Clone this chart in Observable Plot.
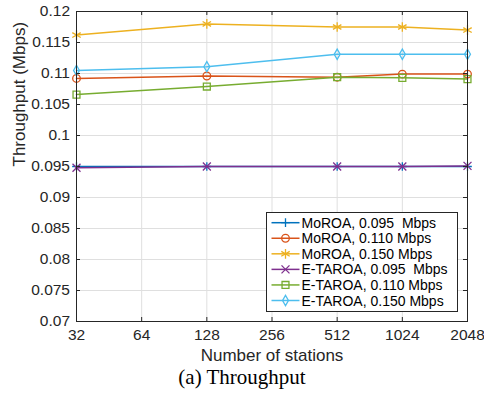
<!DOCTYPE html>
<html>
<head>
<meta charset="utf-8">
<script src="https://cdn.jsdelivr.net/npm/d3@7"></script>
<script src="https://cdn.jsdelivr.net/npm/@observablehq/plot@0.6"></script>
<style>
  body { margin: 0; background: #fff; }
  #wrap { position: relative; width: 484px; height: 403px; overflow: hidden; }
  #chart svg { display: block; }
  #legend { position: absolute; left: 266px; top: 212px; }
  #caption {
    position: absolute; left: 0; top: 367px; width: 484px; text-align: center;
    font-family: "Liberation Serif", "Times New Roman", serif; font-size: 21px; line-height: 21px; color: #000;
  }
</style>
</head>
<body>
<div id="wrap">
  <div id="chart"></div>
  <svg id="legend" width="193" height="101"></svg>
  <div id="caption">(a) Throughput</div>
</div>
<script>
// Number of stations on the x axis (log2 spaced)
const stations = [32, 128, 512, 1024, 2048];

// Throughput per scheme and offered load (Mbps)
const moroa095  = [0.0950, 0.0950, 0.0950, 0.0950, 0.0950];
const moroa110  = [0.1092, 0.1096, 0.1094, 0.1099, 0.1099];
const moroa150  = [0.1162, 0.1180, 0.1175, 0.1175, 0.1170];
const etaroa095 = [0.0948, 0.0950, 0.0950, 0.0950, 0.0951];
const etaroa110 = [0.1066, 0.1079, 0.1094, 0.1093, 0.1091];
const etaroa150 = [0.1105, 0.1111, 0.1131, 0.1131, 0.1131];

const seriesNames = [
  "MoROA, 0.095  Mbps",
  "MoROA, 0.110 Mbps",
  "MoROA, 0.150 Mbps",
  "E-TAROA, 0.095  Mbps",
  "E-TAROA, 0.110 Mbps",
  "E-TAROA, 0.150 Mbps"
];
const seriesValues = [moroa095, moroa110, moroa150, etaroa095, etaroa110, etaroa150];

const xTicks = [32, 64, 128, 256, 512, 1024, 2048];
const yTicks = [0.07, 0.075, 0.08, 0.085, 0.09, 0.095, 0.1, 0.105, 0.11, 0.115, 0.12];

const xLabel = "Number of stations";
const yLabel = "Throughput (Mbps)";

// Styling per series
const colors  = ["#0072BD", "#D95319", "#EDB120", "#7E2F8E", "#77AC30", "#4DBEEE"];
const symbols = ["plus", "circle", "asterisk", "times", "square", "diamond"];
const symbolR = {plus: 2.9, circle: 3.8, asterisk: 4.6, times: 3.7, square: 3.9, diamond: 3.1};
const d3Symbols = {
  plus: d3.symbolPlus, circle: d3.symbolCircle, asterisk: d3.symbolAsterisk,
  times: d3.symbolTimes, square: d3.symbolSquare, diamond: d3.symbolDiamond
};

const axisColor = "#262626";
const gridColor = "#dfdfdf";

const W = 484, H = 367;
const mTop = 11, mRight = 17, mBottom = 46, mLeft = 76;
const plotH = H - mTop - mBottom;
const plotW = W - mLeft - mRight;
const tickLen = 4;

const rows = seriesNames.map((name, i) =>
  stations.map((n, j) => ({series: name, n, v: seriesValues[i][j]}))
);

const seriesMarks = rows.flatMap((data, i) => [
  Plot.line(data, {x: "n", y: "v", stroke: colors[i], strokeWidth: 1.5}),
  Plot.dot(data, {x: "n", y: "v", stroke: colors[i], fill: "none", strokeWidth: 1.3,
                  symbol: symbols[i], r: symbolR[symbols[i]]})
]);

const chart = Plot.plot({
  width: W,
  height: H,
  marginTop: mTop,
  marginRight: mRight,
  marginBottom: mBottom,
  marginLeft: mLeft,
  style: {fontFamily: "'Liberation Sans', Arial, sans-serif", fontSize: "15.5px", color: axisColor, background: "#fff"},
  x: {type: "log", base: 2, domain: [32, 2048]},
  y: {domain: [0.07, 0.12]},
  marks: [
    Plot.gridX(xTicks, {stroke: gridColor, strokeOpacity: 1}),
    Plot.gridY(yTicks, {stroke: gridColor, strokeOpacity: 1}),
    ...seriesMarks,
    // inward ticks on all four sides
    Plot.tickX(xTicks, {x: d => d, insetTop: plotH - tickLen, stroke: axisColor}),
    Plot.tickX(xTicks, {x: d => d, insetBottom: plotH - tickLen, stroke: axisColor}),
    Plot.tickY(yTicks, {y: d => d, insetRight: plotW - tickLen, stroke: axisColor}),
    Plot.tickY(yTicks, {y: d => d, insetLeft: plotW - tickLen, stroke: axisColor}),
    Plot.frame({stroke: axisColor, strokeWidth: 1}),
    Plot.axisX(xTicks, {tickSize: 0, tickPadding: 7, tickFormat: d => String(d), label: null}),
    Plot.axisY(yTicks, {tickSize: 0, tickPadding: 6.5, tickFormat: d => String(+d.toFixed(3)), label: null}),
    Plot.text([xLabel], {frameAnchor: "bottom", dy: 39, lineAnchor: "bottom", fontSize: 17, fill: axisColor}),
    Plot.text([yLabel], {frameAnchor: "left", dx: -64, rotate: -90, lineAnchor: "top", fontSize: 17, fill: axisColor})
  ]
});
document.getElementById("chart").appendChild(chart);

// Legend box in the lower right of the axes
const leg = d3.select("#legend");
leg.append("rect")
  .attr("x", 0.5).attr("y", 0.5).attr("width", 191).attr("height", 99)
  .attr("fill", "#fff").attr("stroke", axisColor).attr("stroke-width", 1);
seriesNames.forEach((name, i) => {
  const cy = 10.7 + i * 15.56;
  const g = leg.append("g");
  g.append("line")
    .attr("x1", 5.5).attr("x2", 33.5).attr("y1", cy).attr("y2", cy)
    .attr("stroke", colors[i]).attr("stroke-width", 1.5);
  const r = symbolR[symbols[i]];
  g.append("path")
    .attr("transform", `translate(19.5,${cy})`)
    .attr("d", d3.symbol(d3Symbols[symbols[i]], r * r * Math.PI)())
    .attr("fill", "none").attr("stroke", colors[i]).attr("stroke-width", 1.3);
  g.append("text")
    .attr("x", 35.5).attr("y", cy + 5)
    .attr("font-family", "'Liberation Sans', Arial, sans-serif")
    .attr("font-size", 14)
    .attr("fill", "#000")
    .style("white-space", "pre")
    .attr("xml:space", "preserve")
    .text(name);
});
</script>
</body>
</html>
